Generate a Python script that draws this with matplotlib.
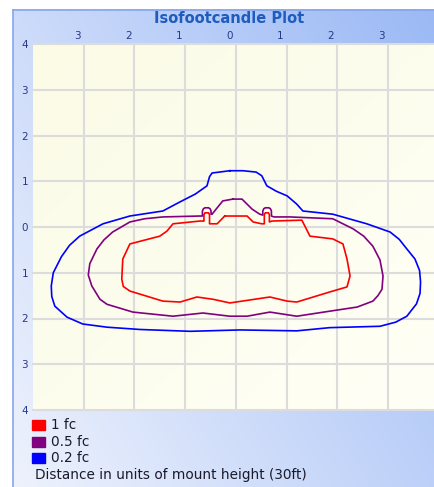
import numpy as np
import matplotlib
matplotlib.use("Agg")
import matplotlib.pyplot as plt
from matplotlib.patches import Rectangle
from matplotlib.transforms import offset_copy

# contour outlines, in units of mount height (closed loops)
blue_x = [-0.12, 0.14, 0.40, 0.51, 0.61, 0.80, 1.01, 1.20, 1.32, 1.91, 2.58, 3.04, 3.22,
          3.37, 3.53, 3.62, 3.64, 3.63, 3.56, 3.37, 3.15, 2.84, 1.85, 1.20, 0.08, -0.90,
          -1.89, -2.54, -3.02, -3.33, -3.57, -3.63, -3.64, -3.60, -3.44, -3.28, -3.08, -2.62,
          -2.09, -1.44, -1.10, -0.80, -0.57, -0.52, -0.47, -0.12]
blue_y = [1.23, 1.23, 1.20, 1.12, 0.90, 0.78, 0.68, 0.50, 0.35, 0.28, 0.07, -0.11, -0.27,
          -0.48, -0.70, -0.95, -1.20, -1.45, -1.68, -1.95, -2.08, -2.17, -2.20, -2.27, -2.25, -2.28,
          -2.24, -2.19, -2.12, -1.97, -1.73, -1.52, -1.29, -1.00, -0.65, -0.40, -0.20, 0.07,
          0.24, 0.35, 0.55, 0.72, 0.90, 1.10, 1.18, 1.23]

purple_x = [-0.06, 0.12, 0.32, 0.47, 0.53, 0.53, 0.55, 0.58, 0.65, 0.68, 0.70, 0.70, 0.75,
            1.07, 1.91, 2.31, 2.52, 2.70, 2.84, 2.90, 2.88, 2.80, 2.70, 2.39, 1.85, 1.20, 0.67,
            0.22, -0.12, -0.65, -1.24, -2.03, -2.54, -2.68, -2.84, -2.91, -2.88, -2.74, -2.60,
            -2.43, -2.09, -1.80, -1.44, -0.71, -0.66, -0.66, -0.64, -0.61, -0.54, -0.51, -0.49,
            -0.49, -0.47, -0.26, -0.06]
purple_y = [0.61, 0.61, 0.39, 0.28, 0.26, 0.35, 0.40, 0.42, 0.42, 0.40, 0.35, 0.24, 0.22,
            0.22, 0.18, -0.04, -0.20, -0.42, -0.72, -1.07, -1.36, -1.50, -1.62, -1.75, -1.84, -1.95, -1.86,
            -1.95, -1.95, -1.88, -1.95, -1.86, -1.69, -1.58, -1.29, -1.05, -0.80, -0.48, -0.28,
            -0.11, 0.11, 0.18, 0.22, 0.24, 0.24, 0.35, 0.40, 0.42, 0.42, 0.40, 0.35,
            0.28, 0.28, 0.57, 0.61]

red_x = [-0.22, 0.22, 0.34, 0.51, 0.56, 0.56, 0.58, 0.64, 0.66, 0.66, 0.71, 1.30,
         1.46, 1.91, 2.11, 2.19, 2.25, 2.19, 1.85, 1.20, 1.01, 0.67, -0.12, -0.45, -0.77,
         -1.10, -1.44, -2.09, -2.22, -2.25, -2.23, -2.09, -1.50, -1.36, -1.24, -0.71, -0.63,
         -0.63, -0.61, -0.54, -0.52, -0.52, -0.37, -0.22]
red_y = [0.24, 0.24, 0.11, 0.07, 0.07, 0.27, 0.31, 0.31, 0.27, 0.11, 0.13, 0.15,
         -0.20, -0.26, -0.37, -0.70, -1.07, -1.31, -1.42, -1.64, -1.62, -1.53, -1.66, -1.58, -1.53,
         -1.64, -1.62, -1.40, -1.30, -1.14, -0.70, -0.37, -0.20, -0.09, 0.07, 0.13, 0.13,
         0.27, 0.31, 0.31, 0.27, 0.07, 0.07, 0.24]

levels = ["1 fc", "0.5 fc", "0.2 fc"]
level_colors = ["#ff0000", "#800080", "#0000ff"]
x_ticks = [-3, -2, -1, 0, 1, 2, 3]
y_ticks = [-4, -3, -2, -1, 0, 1, 2, 3, 4]

W, H = 435, 487
fig = plt.figure(figsize=(W / 100, H / 100), dpi=100)
fig.patch.set_facecolor("white")

# background panel with diagonal blue gradient
bg = fig.add_axes([0, 0, 1, 1])
bg.set_xlim(0, W)
bg.set_ylim(H, 0)
bg.axis("off")
gx, gy = np.meshgrid(np.linspace(0, 1, 200), np.linspace(1, 0, 200))
t = np.clip(0.6 * gx + 0.4 * gy, 0, 1)[..., None]
c0 = np.array([238, 242, 253]) / 255
c1 = np.array([155, 185, 245]) / 255
bg.imshow(c0 + (c1 - c0) * t, extent=(13, W, H, 9), aspect="auto", zorder=0)
bg.plot([13.5, 13.5], [H, 9.5], color="#86a6ec", lw=1.2, zorder=1)
bg.plot([13.5, W], [9.5, 9.5], color="#86a6ec", lw=1.2, zorder=1)

bg.text(229, 18.5, "Isofootcandle Plot", ha="center", va="center",
        fontsize=10.5, fontweight="bold", color="#1f5cbf")

# legend
for i, (lab, col) in enumerate(zip(levels, level_colors)):
    yc = 425 + i * 16.5
    bg.add_patch(Rectangle((32, yc - 5), 13, 10, color=col, zorder=2))
    bg.text(51, yc, lab, ha="left", va="center", fontsize=9.8, color="#1a1a2a")
bg.text(35, 475, "Distance in units of mount height (30ft)", ha="left", va="center",
        fontsize=9.8, color="#1a1a2a")

# plot area
ax = fig.add_axes([33 / W, 1 - 410 / H, (W - 33) / W, 366 / H])
x0, x1 = -4.0, (W - 235.5) / 50.83
ax.set_xlim(x0, x1)
ax.set_ylim(-4, 4)
px, py = np.meshgrid(np.linspace(0, 1, 100), np.linspace(1, 0, 100))
s = np.clip(0.5 * px + 0.5 * (1 - py), 0, 1)[..., None]
p0 = np.array([251, 251, 230]) / 255
p1 = np.array([255, 255, 246]) / 255
ax.imshow(p0 + (p1 - p0) * s, extent=(x0, x1, -4, 4), aspect="auto", zorder=0)

for xv in x_ticks:
    ax.axvline(xv, color="#dcdcdc", lw=1.5, zorder=1)
for yv in y_ticks:
    ax.axhline(yv, color="#dcdcdc", lw=1.5, zorder=1, clip_on=False)

for xs, ys, col in [(red_x, red_y, level_colors[0]),
                    (purple_x, purple_y, level_colors[1]),
                    (blue_x, blue_y, level_colors[2])]:
    ax.plot(xs, ys, color=col, lw=1.2, zorder=3, solid_joinstyle="round")

ax.set_xticks([])
ax.set_yticks(y_ticks, [str(abs(v)) for v in y_ticks])
ax.tick_params(axis="y", length=0, pad=3.5, labelsize=7.5, labelcolor="#26398a")
lab_tr = offset_copy(ax.get_xaxis_transform(), fig=fig, x=-3, y=3, units="dots")
for xv in x_ticks:
    ax.text(xv, 1.0, str(abs(xv)), transform=lab_tr, ha="right", va="bottom",
            fontsize=7.5, color="#26398a", clip_on=False)
for sp in ax.spines.values():
    sp.set_visible(False)

fig.savefig("out.png", dpi=100)
